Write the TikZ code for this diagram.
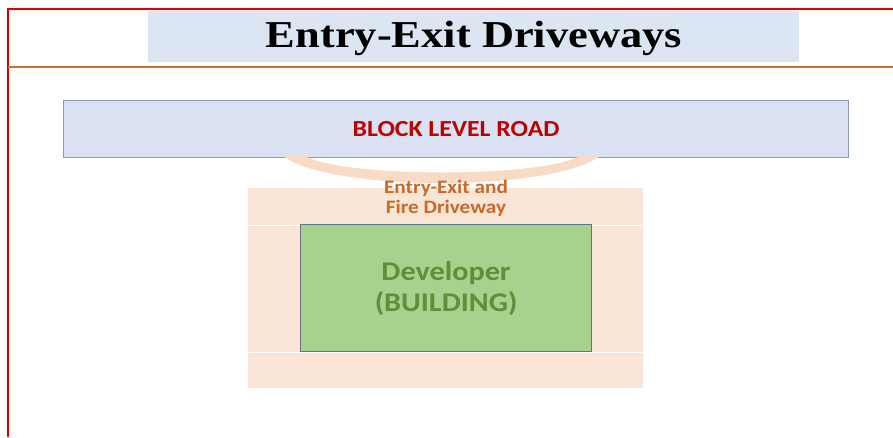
\documentclass[tikz,border=0pt]{standalone}
\usepackage{xcolor}
\usepackage{fontspec}
\setmainfont[FakeStretch=1.17]{Liberation Serif}
\newfontfamily\calfont[FakeStretch=1.12]{Carlito}
\usetikzlibrary{positioning}

\definecolor{framered}{HTML}{E00000}
\definecolor{bandblue}{HTML}{DCE6F2}
\definecolor{ruleorange}{HTML}{CC6F2E}
\definecolor{roadfill}{HTML}{DAE1F3}
\definecolor{roadline}{HTML}{8E9AB4}
\definecolor{roadtext}{HTML}{C00000}
\definecolor{drivefill}{HTML}{FBE5D6}
\definecolor{arcfill}{HTML}{F9DAC5}
\definecolor{drivetext}{HTML}{C96A2A}
\definecolor{bldgfill}{HTML}{A9D18E}
\definecolor{bldgline}{HTML}{5F7489}
\definecolor{bldgtext}{HTML}{5E8F3A}

\begin{document}
\begin{tikzpicture}[
        x=1pt, y=-1pt,
        box/.style={rectangle, anchor=north west, inner sep=0pt, align=center},
        road/.style={box, fill=roadfill, draw=roadline, line width=1.2pt, minimum width=785pt, minimum height=57pt},
        drive/.style={box, fill=drivefill, minimum width=395pt, minimum height=200pt},
        building/.style={box, fill=bldgfill, draw=bldgline, line width=1.2pt, minimum width=291pt, minimum height=127pt}
        ]
        \useasboundingbox (0,0) rectangle (893,437);

        % frame and title
        \draw[framered, line width=2pt] (8,437) -- (8,9) -- (893,9);
        \fill[bandblue] (148,11) rectangle (799,62);
        \node (title) at (474,38) {\fontsize{38}{38}\selectfont\bfseries Entry-Exit Driveways};
        \draw[ruleorange, line width=2pt] (8,67) -- (893,67);

        % road
        \node[road] (road) at (63,100) {};
        \node[font=\calfont\bfseries\fontsize{23}{23}\selectfont, text=roadtext] at (road.center) {BLOCK LEVEL ROAD};

        % driveway
        \node[drive] (drive) at (248,188) {};
        \draw[white, line width=1pt] (drive.west |- 0,225) -- (drive.east |- 0,225)
                                     (drive.west |- 0,352) -- (drive.east |- 0,352);
        \fill[arcfill] (283,156) .. controls (330,192) and (552,192) .. (600,156)
                       -- (580,156) .. controls (540,178) and (345,178) .. (305,156) -- cycle;

        % building
        \node[building] (bldg) at (300,224) {};
        \node[font=\calfont\bfseries\fontsize{27}{31}\selectfont, text=bldgtext, align=center] at (bldg.center) {Developer\\(BUILDING)};
        \node[font=\calfont\bfseries\fontsize{19}{20}\selectfont, text=drivetext, align=center] (drivelabel) at (446,198) {Entry-Exit and\\Fire Driveway};
    \end{tikzpicture}
\end{document}
